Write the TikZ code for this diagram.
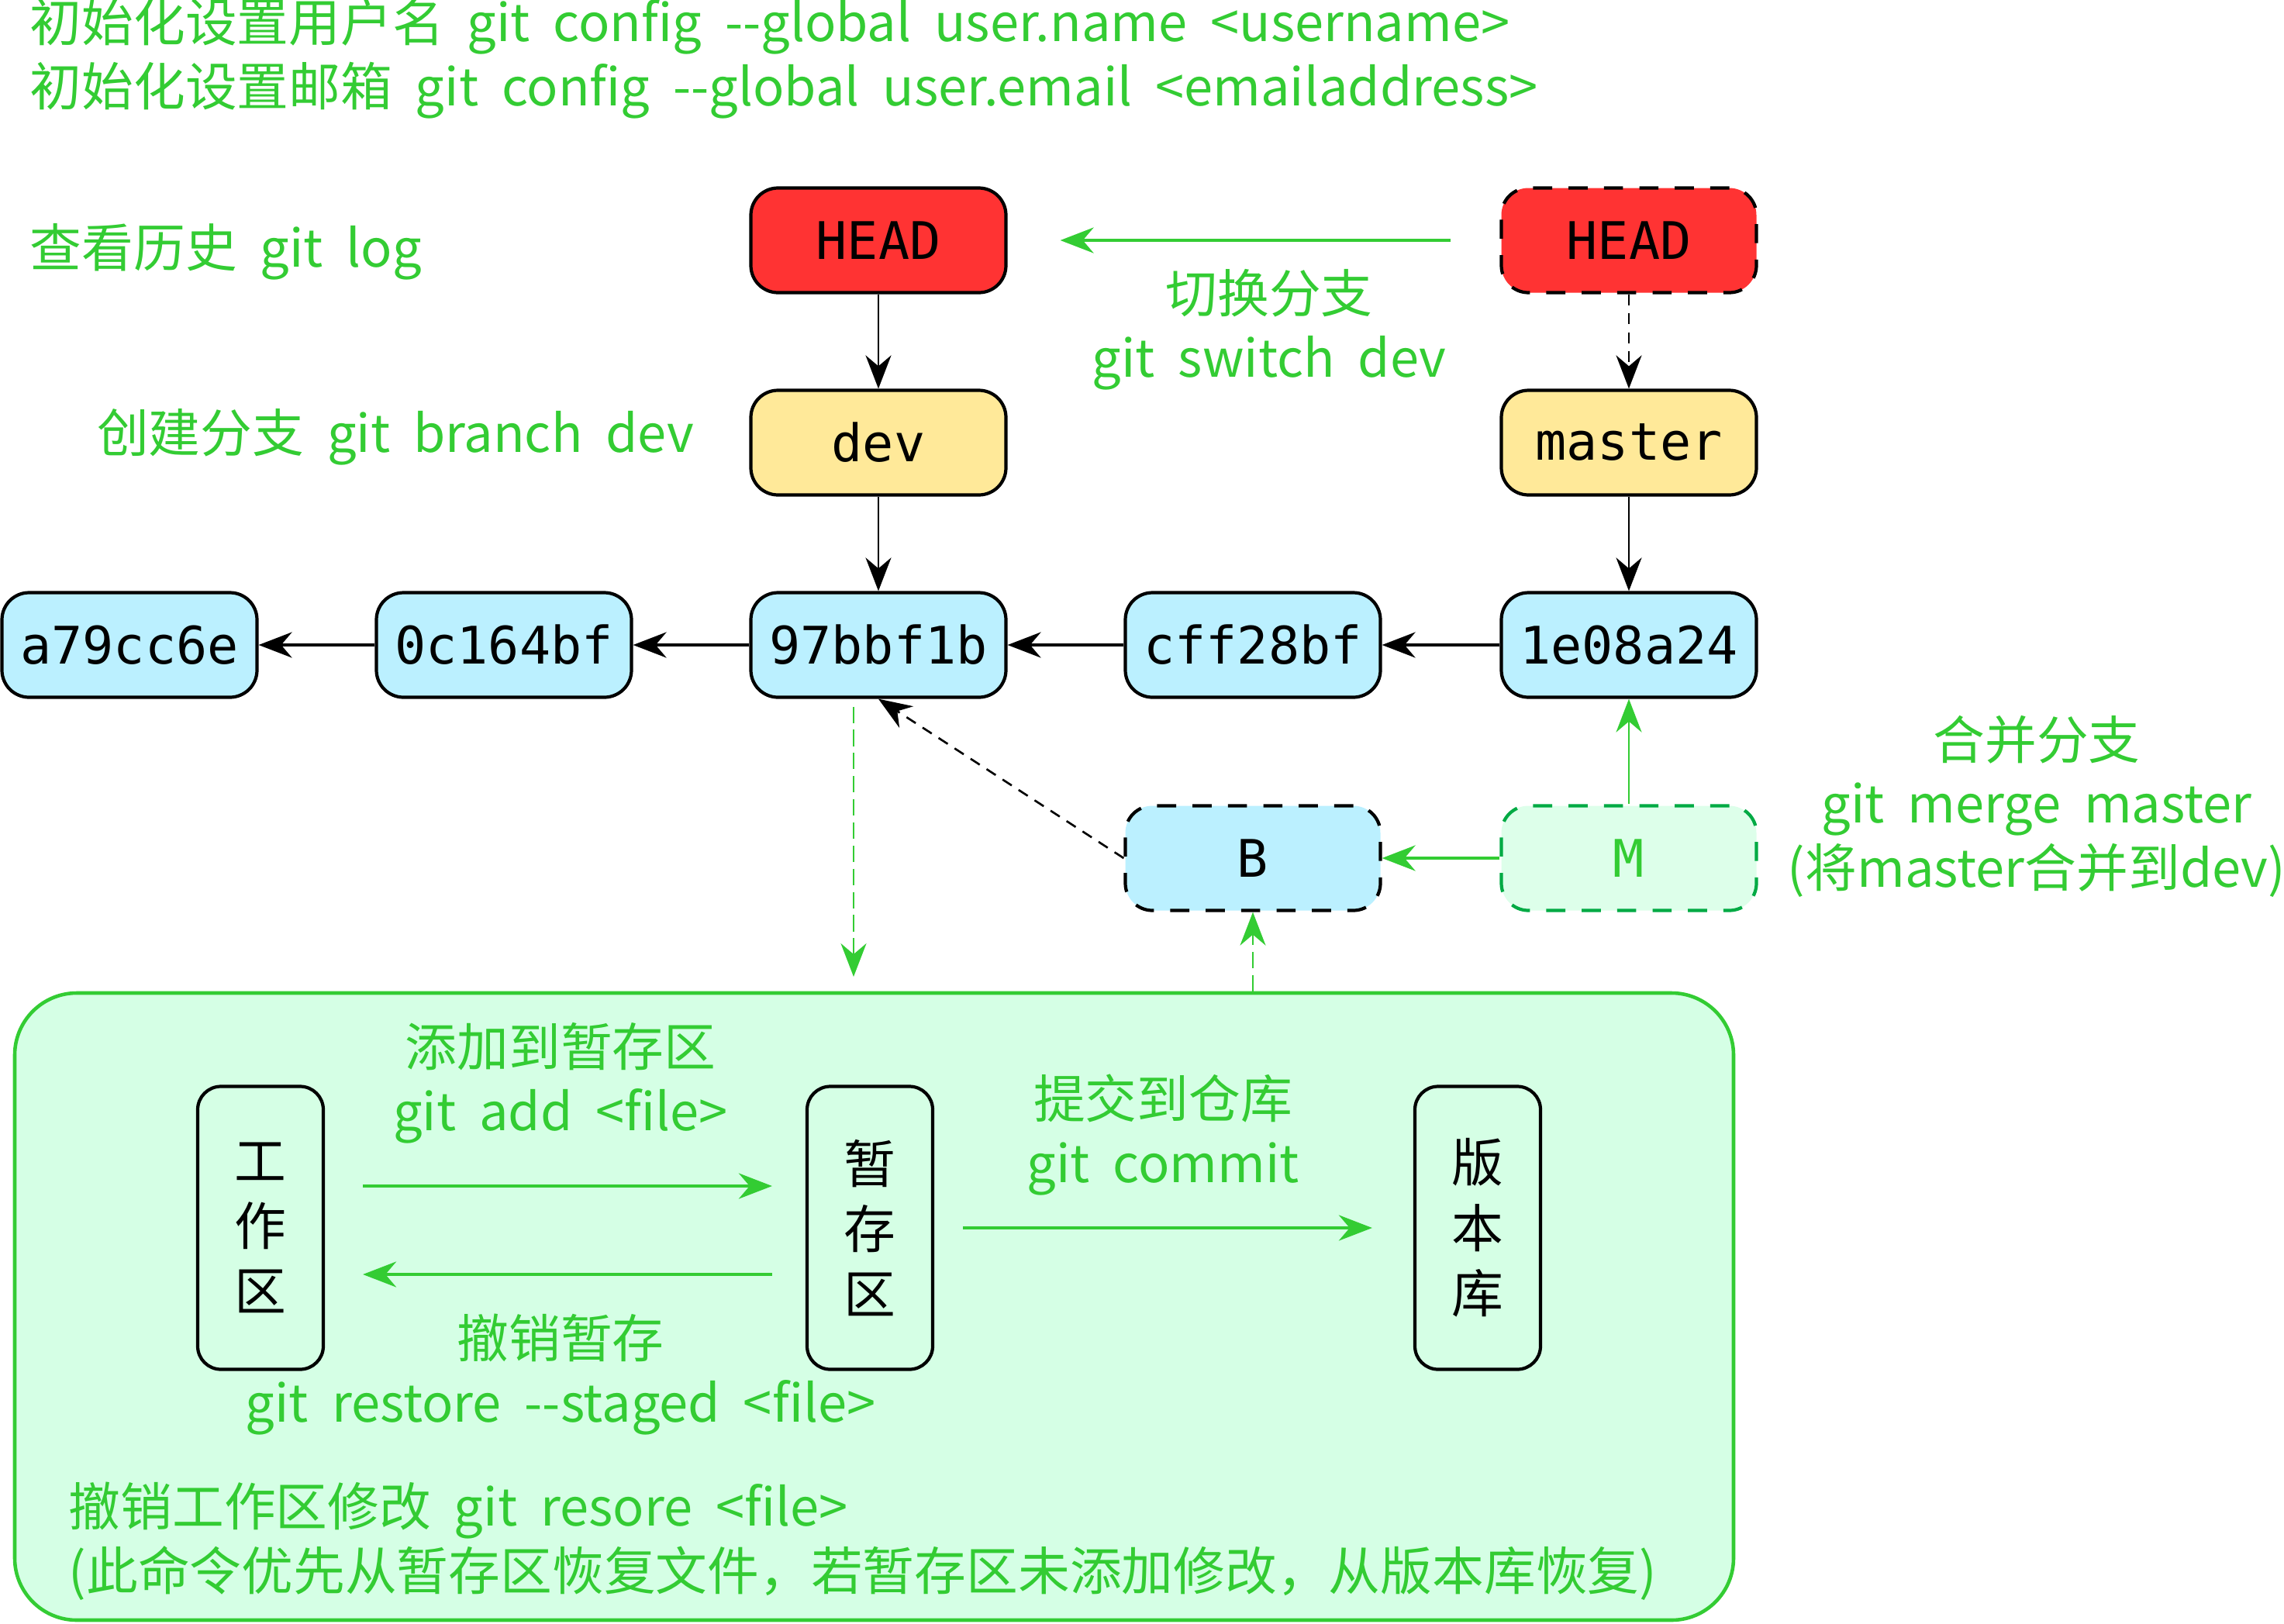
\documentclass[tikz,border=0pt]{standalone}
\usepackage{fontspec}
\setmainfont{Noto Sans CJK SC}[WordSpace=2]
\newfontfamily\hashfont{DejaVu Sans Mono}
\usetikzlibrary{positioning,arrows.meta}
\usepackage{xcolor}
\definecolor{txtgreen}{HTML}{33CC33}
\definecolor{commitblue}{HTML}{BBF0FF}
\definecolor{refyellow}{HTML}{FFE999}
\definecolor{headred}{HTML}{FF3333}
\definecolor{localfill}{HTML}{D5FFE5}
\definecolor{mergefill}{HTML}{DDFFEA}
\definecolor{mergeline}{HTML}{00AA44}

\begin{document}
\begin{tikzpicture}[
      commit/.style={draw=black,line width=1.2pt,fill=commitblue,rounded corners=0.35cm,minimum width=3.29cm,minimum height=1.35cm,inner sep=0pt,font=\hashfont\fontsize{19}{23}\selectfont},
      ref/.style={commit,fill=refyellow},
      head/.style={commit,fill=headred},
      ghost/.style={dash pattern=on 7pt off 6pt},
      area/.style={draw=black,line width=1.2pt,rounded corners=0.3cm,minimum width=1.62cm,minimum height=3.65cm,align=center,inner sep=0pt,font=\fontsize{19}{24}\selectfont},
      note/.style={text=txtgreen,align=center,inner sep=0pt,font=\fontsize{19}{23.5}\selectfont},
      link/.style={-{Stealth[length=4.3mm,width=3.3mm]},line width=0.75pt},
      glink/.style={link,txtgreen,line width=1.1pt}
    ]
      \useasboundingbox (0,0) rectangle (29.46,-20.95);
      % local repository area
      \node[draw=txtgreen,line width=1.3pt,fill=localfill,rounded corners=0.8cm,minimum width=22.17cm,minimum height=8.09cm] (local) at (11.275,-16.855) {};
      \node[area] (work) at (3.36,-15.84) {工\\作\\区};
      \node[area] (stage) at (11.22,-15.84) {暂\\存\\区};
      \node[area] (repo) at (19.06,-15.84) {版\\本\\库};
      % branches and commits
      \node[head] (headL) at (11.33,-3.10) {HEAD};
      \node[head,ghost] (headR) at (21.01,-3.10) {HEAD};
      \node[ref] (dev) at (11.33,-5.71) {dev};
      \node[ref] (master) at (21.01,-5.71) {master};
      \node[commit] (c1) at (1.67,-8.32) {a79cc6e};
      \node[commit] (c2) at (6.50,-8.32) {0c164bf};
      \node[commit] (c3) at (11.33,-8.32) {97bbf1b};
      \node[commit] (c4) at (16.16,-8.32) {cff28bf};
      \node[commit] (c5) at (21.01,-8.32) {1e08a24};
      \node[commit,ghost] (B) at (16.16,-11.07) {B};
      \node[commit,ghost,draw=mergeline,fill=mergefill,text=txtgreen] (M) at (21.01,-11.07) {M};
      \coordinate (stagein) at (11.01,-12.60);
      % commands
      \node[note,anchor=west] (cfgname) at (0.38,-0.34) {初始化设置用户名 git config -\kern0pt-global user.name <username>};
      \node[note,anchor=west] (cfgmail) at (0.38,-1.17) {初始化设置邮箱 git config -\kern0pt-global user.email <emailaddress>};
      \node[note,anchor=west] (log) at (0.38,-3.25) {查看历史 git log};
      \node[note] (branch) at (5.10,-5.64) {创建分支 git branch dev};
      \node[note] (switch) at (16.37,-4.25) {切换分支\\git switch dev};
      \node[note] (merge) at (26.27,-10.40) {合并分支\\git merge master\\(将master合并到dev)};
      \node[note] (add) at (7.23,-13.97) {添加到暂存区\\git add <file>};
      \node[note] (commitcmd) at (15.00,-14.64) {提交到仓库\\git commit};
      \node[note] (unstage) at (7.23,-17.73) {撤销暂存\\git restore -\kern0pt-staged <file>};
      \node[note,align=left,anchor=west] (discard) at (0.88,-19.88) {撤销工作区修改 git resore <file>\\(此命令优先从暂存区恢复文件，若暂存区未添加修改，从版本库恢复)};
      % arrows
      \draw[link] (headL) -- (dev);
      \draw[link,dash pattern=on 4pt off 3pt] (headR) -- (master);
      \draw[link] (dev) -- (c3);
      \draw[link] (master) -- (c5);
      \draw[link,line width=1pt] (c5) -- (c4);
      \draw[link,line width=1pt] (c4) -- (c3);
      \draw[link,line width=1pt] (c3) -- (c2);
      \draw[link,line width=1pt] (c2) -- (c1);
      \draw[glink,shorten >=0.68cm,shorten <=0.63cm] (headR) -- (headL);
      \draw[glink] (M) -- (B);
      \draw[glink,line width=0.7pt] (M) -- (c5);
      \draw[link,dash pattern=on 4pt off 3pt] (B.west) -- (c3.south);
      \draw[glink,line width=0.7pt,dash pattern=on 6pt off 2.5pt,shorten <=0.1cm] ([xshift=-0.32cm]c3.south) -- (stagein);
      \draw[glink,line width=0.7pt,dash pattern=on 6pt off 2.5pt] (local.north -| B) -- (B);
      \draw[glink,shorten <=0.49cm,shorten >=0.43cm] ([yshift=0.54cm]work.east) -- ([yshift=0.54cm]stage.west);
      \draw[glink,shorten <=0.43cm,shorten >=0.49cm] ([yshift=-0.60cm]stage.west) -- ([yshift=-0.60cm]work.east);
      \draw[glink,shorten <=0.37cm,shorten >=0.53cm] (stage) -- (repo);
    \end{tikzpicture}
\end{document}
